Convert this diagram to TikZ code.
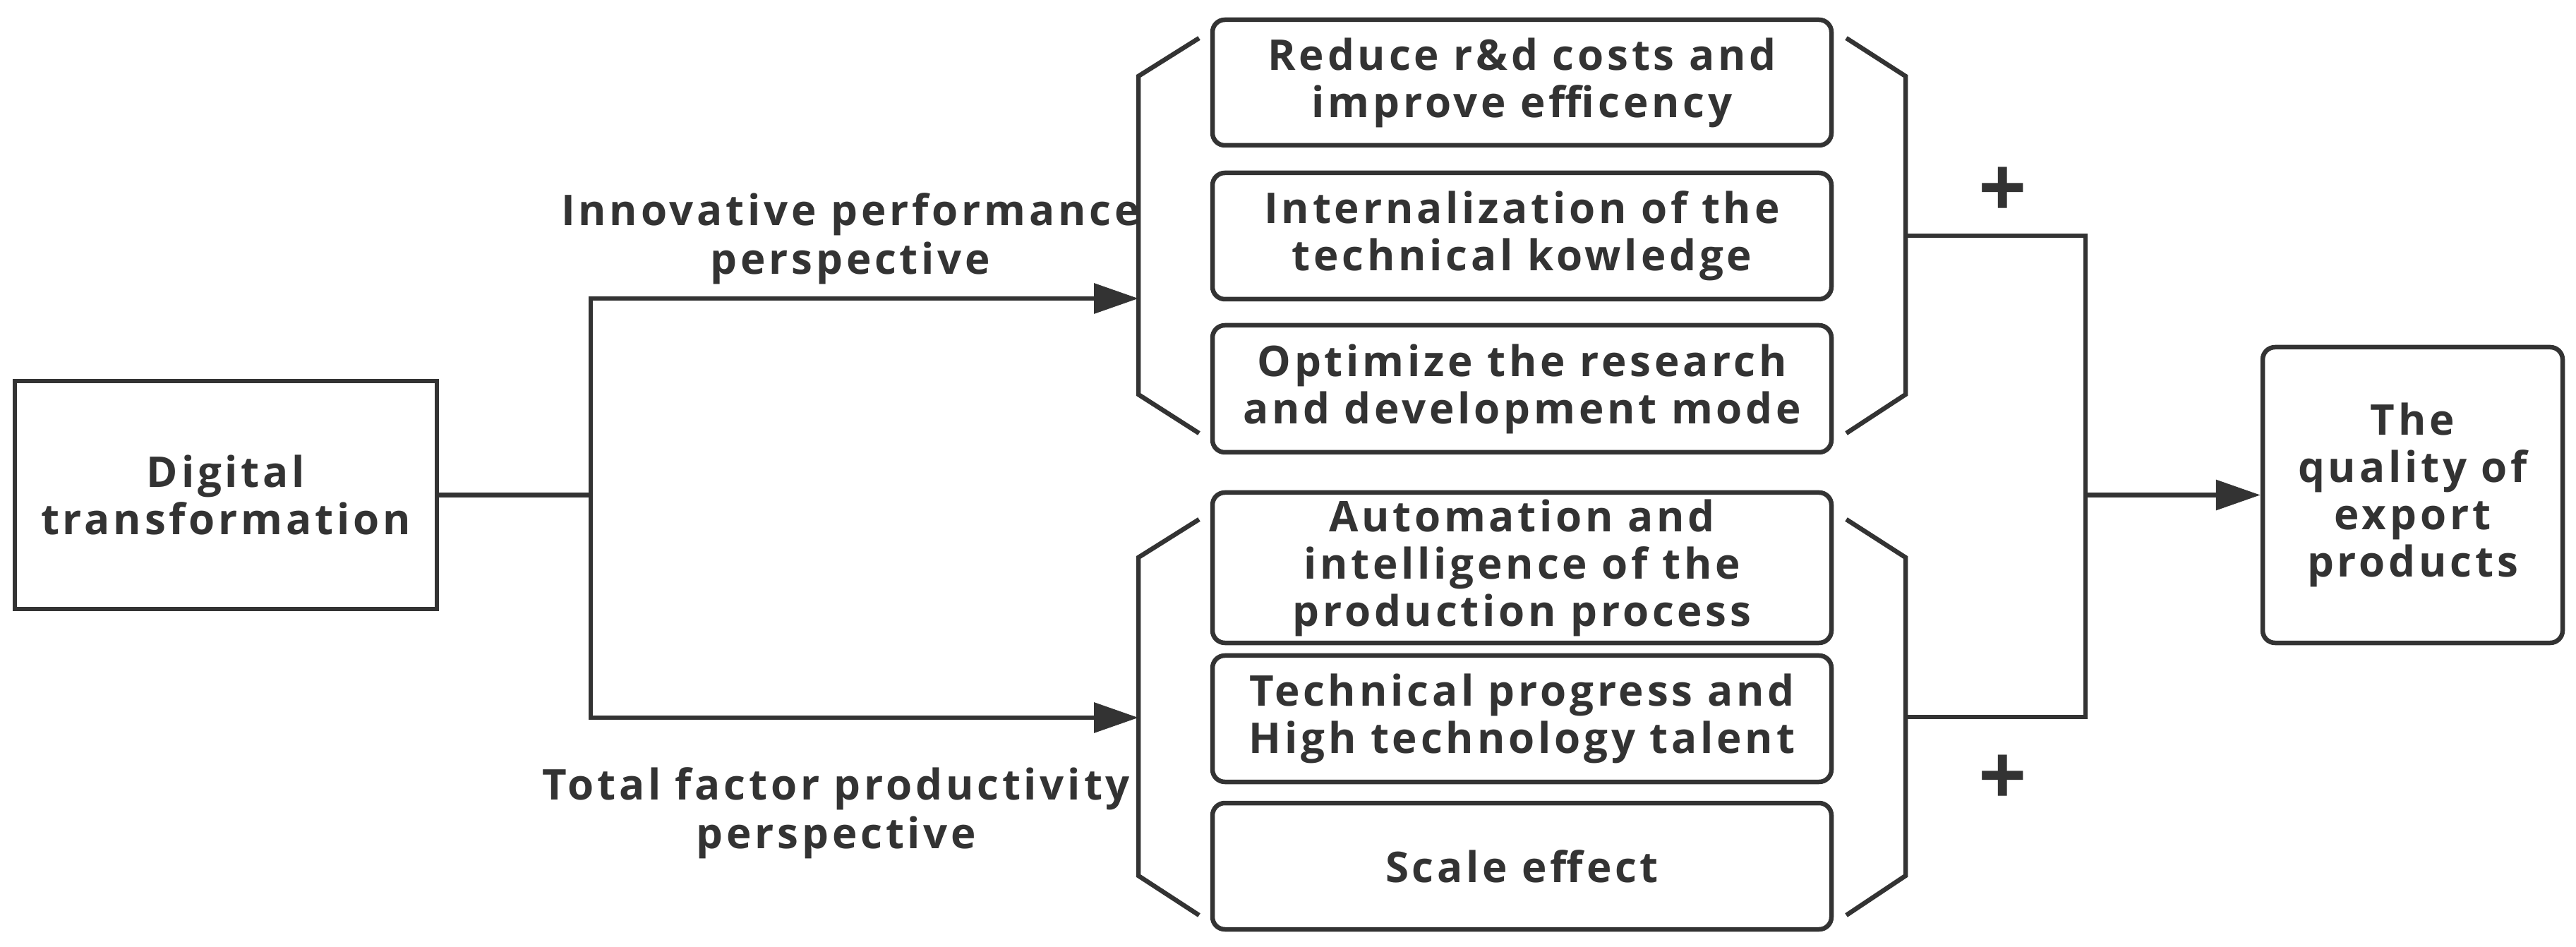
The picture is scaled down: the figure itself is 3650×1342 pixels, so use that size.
\documentclass[tikz,border=0pt]{standalone}
\usepackage{fontspec}
\setmainfont{Open Sans}[LetterSpace=8]
\usetikzlibrary{arrows.meta}
\definecolor{ink}{HTML}{333333}
\tikzset{
  plainbox/.style={draw=ink, line width=1.3pt, align=center, inner sep=0pt, text=ink, font=\bfseries\fontsize{12}{13.4}\selectfont},
  roundbox/.style={plainbox, rounded corners=3.5pt},
  conn/.style={draw=ink, line width=1.3pt},
  arr/.style={conn, -{Triangle[length=12.6pt,width=8.4pt]}},
  bracketline/.style={draw=ink, line width=1.3pt},
  lbl/.style={align=center, inner sep=0pt, text=ink, font=\bfseries\fontsize{12}{13.8}\selectfont},
  plus/.style={inner sep=0pt, text=ink, font=\bfseries\fontsize{24}{24}\selectfont}
}
\begin{document}
\begin{tikzpicture}[x=0.2pt,y=0.2pt,yscale=-1,xscale=1]
\useasboundingbox (0,0) rectangle (3650,1342);

%Shape: Rectangle
\node[plainbox, minimum width=119.6pt, minimum height=64.6pt] (digital) at (320,701.5) {Digital\\transformation};
%Shape: Rounded Rect
\node[roundbox, minimum width=175.4pt, minimum height=35.6pt] (cost) at (2156.5,117) {Reduce r\&d costs and\\improve efficency};
\node[roundbox, minimum width=175.4pt, minimum height=35.8pt] (know) at (2156.5,334.5) {Internalization of the\\technical kowledge};
\node[roundbox, minimum width=175.4pt, minimum height=36pt] (mode) at (2156.5,551) {Optimize the research\\and development mode};
\node[roundbox, minimum width=175.4pt, minimum height=42.6pt] (auto) at (2156.5,804.5) {Automation and\\intelligence of the\\production process};
\node[roundbox, minimum width=175.4pt, minimum height=35.8pt] (tech) at (2156.5,1018.5) {Technical progress and\\High technology talent};
\node[roundbox, minimum width=175.4pt, minimum height=35.8pt] (scale) at (2156.5,1227.5) {Scale effect};
\node[roundbox, minimum width=85pt, minimum height=83.8pt] (quality) at (3418.5,701.5) {The\\quality of\\export\\products};

%Shape: Brackets
\draw[bracketline] (1699,54) -- (1613,108) -- (1613,559) -- (1699,614);
\draw[bracketline] (1699,736) -- (1613,790) -- (1613,1241) -- (1699,1297);
\draw[bracketline] (2616,54) -- (2700,108) -- (2700,559) -- (2616,614);
\draw[bracketline] (2616,736) -- (2700,790) -- (2700,1241) -- (2616,1297);

\coordinate (split) at (837,701.5);
\coordinate (upin) at (1613,423);
\coordinate (lowin) at (1613,1017);
\coordinate (upout) at (2700,334);
\coordinate (lowout) at (2700,1016);
\coordinate (merge) at (2955,701.5);

%Straight Lines
\draw[conn] (digital.east) -- (split);
\draw[arr] (split) |- (upin);
\draw[arr] (split) |- (lowin);
\draw[conn] (upout) -| (merge);
\draw[conn] (lowout) -| (merge);
\draw[arr] (merge) -- (quality.west);

% Text Node
\node[lbl] (innov) at (1205,338) {Innovative performance\\perspective};
% Text Node
\node[lbl] (tfp) at (1185,1152) {Total factor productivity\\perspective};
% Text Node
\node[plus] (plusup) at (2838,273) {+};
% Text Node
\node[plus] (pluslow) at (2838,1106) {+};

\end{tikzpicture}
\end{document}
